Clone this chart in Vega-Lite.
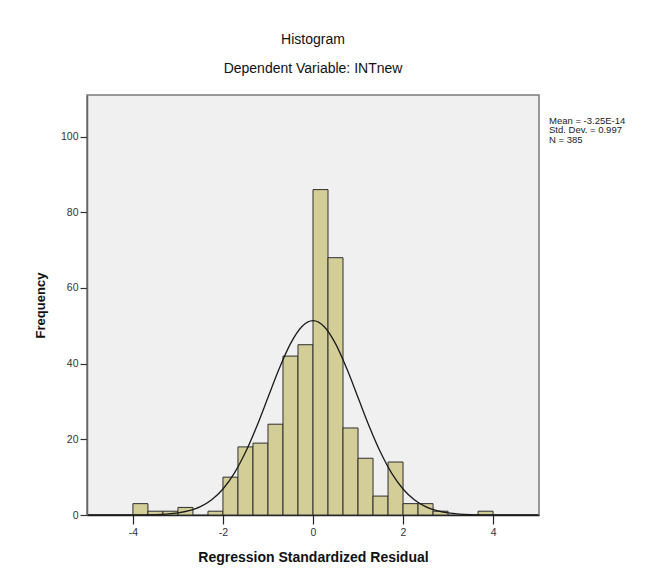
{
  "$schema": "https://vega.github.io/schema/vega-lite/v6.json",
  "width": 452,
  "height": 420,
  "autosize": {"type": "none"},
  "padding": {"left": 87, "top": 95, "right": 109, "bottom": 66},
  "background": "#ffffff",
  "title": {
    "text": "Histogram",
    "subtitle": "Dependent Variable: INTnew",
    "anchor": "middle",
    "frame": "group",
    "font": "Liberation Sans",
    "subtitleFont": "Liberation Sans",
    "fontSize": 14,
    "subtitleFontSize": 14,
    "fontWeight": "normal",
    "color": "#111111",
    "subtitleColor": "#111111",
    "subtitlePadding": 15,
    "offset": 19
  },
  "config": {
    "view": {"fill": "#f0f0f0", "stroke": "#7a7a7a", "strokeWidth": 1.5},
    "font": "Liberation Sans"
  },
  "datasets": {
    "bins": [
      {"bin_start": -4.0, "bin_end": -3.6667, "count": 3},
      {"bin_start": -3.6667, "bin_end": -3.3333, "count": 1},
      {"bin_start": -3.3333, "bin_end": -3.0, "count": 1},
      {"bin_start": -3.0, "bin_end": -2.6667, "count": 2},
      {"bin_start": -2.3333, "bin_end": -2.0, "count": 1},
      {"bin_start": -2.0, "bin_end": -1.6667, "count": 10},
      {"bin_start": -1.6667, "bin_end": -1.3333, "count": 18},
      {"bin_start": -1.3333, "bin_end": -1.0, "count": 19},
      {"bin_start": -1.0, "bin_end": -0.6667, "count": 24},
      {"bin_start": -0.6667, "bin_end": -0.3333, "count": 42},
      {"bin_start": -0.3333, "bin_end": 0.0, "count": 45},
      {"bin_start": 0.0, "bin_end": 0.3333, "count": 86},
      {"bin_start": 0.3333, "bin_end": 0.6667, "count": 68},
      {"bin_start": 0.6667, "bin_end": 1.0, "count": 23},
      {"bin_start": 1.0, "bin_end": 1.3333, "count": 15},
      {"bin_start": 1.3333, "bin_end": 1.6667, "count": 5},
      {"bin_start": 1.6667, "bin_end": 2.0, "count": 14},
      {"bin_start": 2.0, "bin_end": 2.3333, "count": 3},
      {"bin_start": 2.3333, "bin_end": 2.6667, "count": 3},
      {"bin_start": 2.6667, "bin_end": 3.0, "count": 1},
      {"bin_start": 3.6667, "bin_end": 4.0, "count": 1}
    ],
    "curve": [
      {"x": -5.0, "y": 0.0},
      {"x": -4.5, "y": 0.001},
      {"x": -4.25, "y": 0.006},
      {"x": -4.0, "y": 0.016},
      {"x": -3.75, "y": 0.044},
      {"x": -3.5, "y": 0.108},
      {"x": -3.25, "y": 0.253},
      {"x": -3.0, "y": 0.555},
      {"x": -2.75, "y": 1.14},
      {"x": -2.5, "y": 2.21},
      {"x": -2.25, "y": 4.02},
      {"x": -2.0, "y": 6.87},
      {"x": -1.75, "y": 11.0},
      {"x": -1.5, "y": 16.56},
      {"x": -1.25, "y": 23.4},
      {"x": -1.0, "y": 31.05},
      {"x": -0.75, "y": 38.69},
      {"x": -0.5, "y": 45.28},
      {"x": -0.25, "y": 49.76},
      {"x": 0.0, "y": 51.35},
      {"x": 0.25, "y": 49.76},
      {"x": 0.5, "y": 45.28},
      {"x": 0.75, "y": 38.69},
      {"x": 1.0, "y": 31.05},
      {"x": 1.25, "y": 23.4},
      {"x": 1.5, "y": 16.56},
      {"x": 1.75, "y": 11.0},
      {"x": 2.0, "y": 6.87},
      {"x": 2.25, "y": 4.02},
      {"x": 2.5, "y": 2.21},
      {"x": 2.75, "y": 1.14},
      {"x": 3.0, "y": 0.555},
      {"x": 3.25, "y": 0.253},
      {"x": 3.5, "y": 0.108},
      {"x": 3.75, "y": 0.044},
      {"x": 4.0, "y": 0.016},
      {"x": 4.25, "y": 0.006},
      {"x": 4.5, "y": 0.001},
      {"x": 5.0, "y": 0.0}
    ],
    "stats": [
      {"label": "Mean = -3.25E-14\nStd. Dev. = 0.997\nN = 385"}
    ]
  },
  "layer": [
    {
      "data": {"name": "bins"},
      "mark": {"type": "rect", "fill": "#d3ce98", "stroke": "#2e2e2e", "strokeWidth": 1},
      "encoding": {
        "x": {
          "field": "bin_start",
          "type": "quantitative",
          "scale": {"domain": [-5.02, 5.02], "nice": false, "zero": false},
          "axis": {
            "values": [-4, -2, 0, 2, 4],
            "labelExpr": "'' + datum.value",
            "title": "Regression Standardized Residual",
            "titleFont": "Liberation Sans",
            "titleFontSize": 14,
            "titleFontWeight": "bold",
            "titleColor": "#111111",
            "titlePadding": 13,
            "labelFont": "Liberation Sans",
            "labelFontSize": 10.5,
            "labelColor": "#333333",
            "labelPadding": 3,
            "tickSize": 9,
            "tickColor": "#222222",
            "tickWidth": 1.2,
            "domainColor": "#222222",
            "domainWidth": 1.5,
            "grid": false
          }
        },
        "x2": {"field": "bin_end"},
        "y": {
          "field": "count",
          "type": "quantitative",
          "scale": {"domain": [0, 111], "nice": false},
          "axis": {
            "values": [0, 20, 40, 60, 80, 100],
            "title": "Frequency",
            "titleFont": "Liberation Sans",
            "titleFontSize": 13,
            "titleFontWeight": "bold",
            "titleColor": "#111111",
            "titlePadding": 13,
            "labelFont": "Liberation Sans",
            "labelFontSize": 10.5,
            "labelColor": "#333333",
            "labelPadding": 2,
            "tickSize": 7,
            "tickColor": "#333333",
            "tickWidth": 1.2,
            "domainColor": "#666666",
            "domainWidth": 1.5,
            "grid": false
          }
        },
        "y2": {"datum": 0}
      }
    },
    {
      "data": {"name": "curve"},
      "mark": {"type": "line", "color": "#1a1a1a", "strokeWidth": 1.3, "interpolate": "monotone"},
      "encoding": {
        "x": {"field": "x", "type": "quantitative"},
        "y": {"field": "y", "type": "quantitative"}
      }
    },
    {
      "data": {"name": "stats"},
      "mark": {
        "type": "text",
        "align": "left",
        "baseline": "top",
        "dx": 10,
        "fontSize": 9.5,
        "lineHeight": 9.5,
        "lineBreak": "\n",
        "color": "#222222",
        "font": "Liberation Sans"
      },
      "encoding": {
        "x": {"datum": 5.02},
        "y": {"datum": 105.5},
        "text": {"field": "label"}
      }
    }
  ]
}
